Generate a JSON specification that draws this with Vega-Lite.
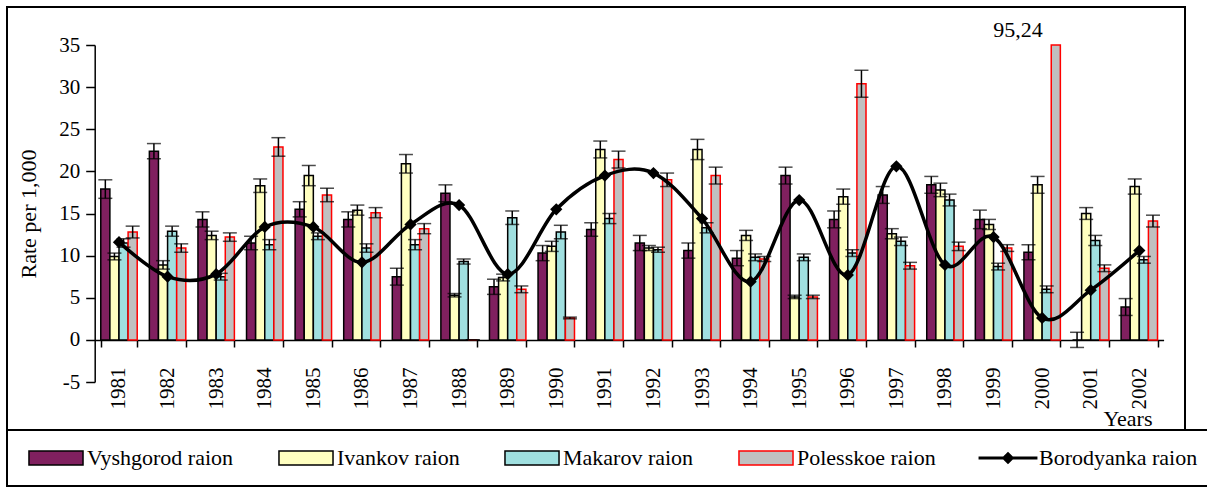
{
  "$schema": "https://vega.github.io/schema/vega-lite/v6.json",
  "autosize": {"type": "none"},
  "padding": {"left": 7, "top": 7, "right": 22, "bottom": 59},
  "width": 1178,
  "height": 423,
  "background": "white",
  "config": {
    "font": "Liberation Serif",
    "axis": {"labelFont": "Liberation Serif", "titleFont": "Liberation Serif"},
    "legend": {"labelFont": "Liberation Serif", "titleFont": "Liberation Serif"},
    "text": {"font": "Liberation Serif"},
    "view": {"stroke": "black", "strokeWidth": 2}
  },
  "datasets": {
    "bars": [
      {"year":"1981","raion":"Vyshgorod raion","value":17.9,"lo":16.8,"hi":19.0},
      {"year":"1981","raion":"Ivankov raion","value":9.9,"lo":9.5,"hi":10.3},
      {"year":"1981","raion":"Makarov raion","value":11.5,"lo":11.0,"hi":12.0},
      {"year":"1981","raion":"Polesskoe raion","value":12.8,"lo":12.1,"hi":13.5},
      {"year":"1982","raion":"Vyshgorod raion","value":22.4,"lo":21.5,"hi":23.3},
      {"year":"1982","raion":"Ivankov raion","value":8.9,"lo":8.4,"hi":9.4},
      {"year":"1982","raion":"Makarov raion","value":12.9,"lo":12.3,"hi":13.5},
      {"year":"1982","raion":"Polesskoe raion","value":10.9,"lo":10.4,"hi":11.4},
      {"year":"1983","raion":"Vyshgorod raion","value":14.3,"lo":13.4,"hi":15.2},
      {"year":"1983","raion":"Ivankov raion","value":12.4,"lo":11.9,"hi":12.9},
      {"year":"1983","raion":"Makarov raion","value":7.5,"lo":7.1,"hi":7.9},
      {"year":"1983","raion":"Polesskoe raion","value":12.2,"lo":11.7,"hi":12.7},
      {"year":"1984","raion":"Vyshgorod raion","value":11.5,"lo":10.7,"hi":12.3},
      {"year":"1984","raion":"Ivankov raion","value":18.3,"lo":17.5,"hi":19.1},
      {"year":"1984","raion":"Makarov raion","value":11.3,"lo":10.7,"hi":11.9},
      {"year":"1984","raion":"Polesskoe raion","value":22.9,"lo":21.8,"hi":24.0},
      {"year":"1985","raion":"Vyshgorod raion","value":15.5,"lo":14.6,"hi":16.4},
      {"year":"1985","raion":"Ivankov raion","value":19.5,"lo":18.3,"hi":20.7},
      {"year":"1985","raion":"Makarov raion","value":12.3,"lo":11.9,"hi":12.7},
      {"year":"1985","raion":"Polesskoe raion","value":17.2,"lo":16.4,"hi":18.0},
      {"year":"1986","raion":"Vyshgorod raion","value":14.3,"lo":13.4,"hi":15.2},
      {"year":"1986","raion":"Ivankov raion","value":15.4,"lo":14.8,"hi":16.0},
      {"year":"1986","raion":"Makarov raion","value":10.9,"lo":10.4,"hi":11.4},
      {"year":"1986","raion":"Polesskoe raion","value":15.1,"lo":14.5,"hi":15.7},
      {"year":"1987","raion":"Vyshgorod raion","value":7.5,"lo":6.5,"hi":8.5},
      {"year":"1987","raion":"Ivankov raion","value":20.9,"lo":19.8,"hi":22.0},
      {"year":"1987","raion":"Makarov raion","value":11.3,"lo":10.7,"hi":11.9},
      {"year":"1987","raion":"Polesskoe raion","value":13.2,"lo":12.6,"hi":13.8},
      {"year":"1988","raion":"Vyshgorod raion","value":17.4,"lo":16.4,"hi":18.4},
      {"year":"1988","raion":"Ivankov raion","value":5.3,"lo":5.1,"hi":5.5},
      {"year":"1988","raion":"Makarov raion","value":9.3,"lo":9.0,"hi":9.6},
      {"year":"1988","raion":"Polesskoe raion","value":0,"lo":0,"hi":0},
      {"year":"1989","raion":"Vyshgorod raion","value":6.3,"lo":5.4,"hi":7.2},
      {"year":"1989","raion":"Ivankov raion","value":7.4,"lo":7.0,"hi":7.8},
      {"year":"1989","raion":"Makarov raion","value":14.5,"lo":13.7,"hi":15.3},
      {"year":"1989","raion":"Polesskoe raion","value":6.0,"lo":5.6,"hi":6.4},
      {"year":"1990","raion":"Vyshgorod raion","value":10.3,"lo":9.4,"hi":11.2},
      {"year":"1990","raion":"Ivankov raion","value":11.1,"lo":10.5,"hi":11.7},
      {"year":"1990","raion":"Makarov raion","value":12.8,"lo":12.0,"hi":13.6},
      {"year":"1990","raion":"Polesskoe raion","value":2.6,"lo":2.5,"hi":2.7},
      {"year":"1991","raion":"Vyshgorod raion","value":13.1,"lo":12.3,"hi":13.9},
      {"year":"1991","raion":"Ivankov raion","value":22.6,"lo":21.6,"hi":23.6},
      {"year":"1991","raion":"Makarov raion","value":14.4,"lo":13.8,"hi":15.0},
      {"year":"1991","raion":"Polesskoe raion","value":21.4,"lo":20.4,"hi":22.4},
      {"year":"1992","raion":"Vyshgorod raion","value":11.5,"lo":10.6,"hi":12.4},
      {"year":"1992","raion":"Ivankov raion","value":10.9,"lo":10.6,"hi":11.2},
      {"year":"1992","raion":"Makarov raion","value":10.7,"lo":10.4,"hi":11.0},
      {"year":"1992","raion":"Polesskoe raion","value":19.0,"lo":18.2,"hi":19.8},
      {"year":"1993","raion":"Vyshgorod raion","value":10.6,"lo":9.7,"hi":11.5},
      {"year":"1993","raion":"Ivankov raion","value":22.6,"lo":21.4,"hi":23.8},
      {"year":"1993","raion":"Makarov raion","value":13.3,"lo":12.7,"hi":13.9},
      {"year":"1993","raion":"Polesskoe raion","value":19.5,"lo":18.5,"hi":20.5},
      {"year":"1994","raion":"Vyshgorod raion","value":9.7,"lo":8.8,"hi":10.6},
      {"year":"1994","raion":"Ivankov raion","value":12.4,"lo":11.8,"hi":13.0},
      {"year":"1994","raion":"Makarov raion","value":9.8,"lo":9.4,"hi":10.2},
      {"year":"1994","raion":"Polesskoe raion","value":9.6,"lo":9.3,"hi":9.9},
      {"year":"1995","raion":"Vyshgorod raion","value":19.5,"lo":18.5,"hi":20.5},
      {"year":"1995","raion":"Ivankov raion","value":5.1,"lo":4.9,"hi":5.3},
      {"year":"1995","raion":"Makarov raion","value":9.8,"lo":9.4,"hi":10.2},
      {"year":"1995","raion":"Polesskoe raion","value":5.1,"lo":4.9,"hi":5.3},
      {"year":"1996","raion":"Vyshgorod raion","value":14.3,"lo":13.3,"hi":15.3},
      {"year":"1996","raion":"Ivankov raion","value":17.0,"lo":16.1,"hi":17.9},
      {"year":"1996","raion":"Makarov raion","value":10.3,"lo":9.9,"hi":10.7},
      {"year":"1996","raion":"Polesskoe raion","value":30.4,"lo":28.8,"hi":32.0},
      {"year":"1997","raion":"Vyshgorod raion","value":17.2,"lo":16.2,"hi":18.2},
      {"year":"1997","raion":"Ivankov raion","value":12.6,"lo":12.0,"hi":13.2},
      {"year":"1997","raion":"Makarov raion","value":11.7,"lo":11.2,"hi":12.2},
      {"year":"1997","raion":"Polesskoe raion","value":8.8,"lo":8.4,"hi":9.2},
      {"year":"1998","raion":"Vyshgorod raion","value":18.4,"lo":17.4,"hi":19.4},
      {"year":"1998","raion":"Ivankov raion","value":17.8,"lo":17.0,"hi":18.6},
      {"year":"1998","raion":"Makarov raion","value":16.6,"lo":15.9,"hi":17.3},
      {"year":"1998","raion":"Polesskoe raion","value":11.1,"lo":10.6,"hi":11.6},
      {"year":"1999","raion":"Vyshgorod raion","value":14.3,"lo":13.2,"hi":15.4},
      {"year":"1999","raion":"Ivankov raion","value":13.7,"lo":13.1,"hi":14.3},
      {"year":"1999","raion":"Makarov raion","value":8.7,"lo":8.3,"hi":9.1},
      {"year":"1999","raion":"Polesskoe raion","value":10.9,"lo":10.5,"hi":11.3},
      {"year":"2000","raion":"Vyshgorod raion","value":10.4,"lo":9.5,"hi":11.3},
      {"year":"2000","raion":"Ivankov raion","value":18.4,"lo":17.4,"hi":19.4},
      {"year":"2000","raion":"Makarov raion","value":6.0,"lo":5.6,"hi":6.4},
      {"year":"2000","raion":"Polesskoe raion","value":95.24,"lo":null,"hi":null},
      {"year":"2001","raion":"Vyshgorod raion","value":0,"lo":-0.9,"hi":0.9},
      {"year":"2001","raion":"Ivankov raion","value":15.0,"lo":14.3,"hi":15.7},
      {"year":"2001","raion":"Makarov raion","value":11.8,"lo":11.2,"hi":12.4},
      {"year":"2001","raion":"Polesskoe raion","value":8.5,"lo":8.1,"hi":8.9},
      {"year":"2002","raion":"Vyshgorod raion","value":3.9,"lo":2.9,"hi":4.9},
      {"year":"2002","raion":"Ivankov raion","value":18.2,"lo":17.3,"hi":19.1},
      {"year":"2002","raion":"Makarov raion","value":9.5,"lo":9.1,"hi":9.9},
      {"year":"2002","raion":"Polesskoe raion","value":14.1,"lo":13.4,"hi":14.8}
    ],
    "line": [
      {"year":"1981","raion":"Borodyanka raion","value":11.6},
      {"year":"1982","raion":"Borodyanka raion","value":7.5},
      {"year":"1983","raion":"Borodyanka raion","value":7.8},
      {"year":"1984","raion":"Borodyanka raion","value":13.4},
      {"year":"1985","raion":"Borodyanka raion","value":13.4},
      {"year":"1986","raion":"Borodyanka raion","value":9.2},
      {"year":"1987","raion":"Borodyanka raion","value":13.7},
      {"year":"1988","raion":"Borodyanka raion","value":16.0},
      {"year":"1989","raion":"Borodyanka raion","value":7.8},
      {"year":"1990","raion":"Borodyanka raion","value":15.5},
      {"year":"1991","raion":"Borodyanka raion","value":19.5},
      {"year":"1992","raion":"Borodyanka raion","value":19.8},
      {"year":"1993","raion":"Borodyanka raion","value":14.4},
      {"year":"1994","raion":"Borodyanka raion","value":6.9},
      {"year":"1995","raion":"Borodyanka raion","value":16.6},
      {"year":"1996","raion":"Borodyanka raion","value":7.7},
      {"year":"1997","raion":"Borodyanka raion","value":20.6},
      {"year":"1998","raion":"Borodyanka raion","value":8.9},
      {"year":"1999","raion":"Borodyanka raion","value":12.2},
      {"year":"2000","raion":"Borodyanka raion","value":2.6},
      {"year":"2001","raion":"Borodyanka raion","value":5.9},
      {"year":"2002","raion":"Borodyanka raion","value":10.6}
    ],
    "note": [
      {"year":"2000","raion":"Polesskoe raion","value":95.24,"label":"95,24"}
    ]
  },
  "encoding": {
    "x": {
      "field": "year", "type": "nominal",
      "scale": {"type": "band", "range": [87.7, 1156.6], "paddingInner": 0.25, "paddingOuter": 0.125},
      "axis": {
        "offset": -90, "tickBand": "extent", "tickSize": 7, "tickWidth": 1.5, "tickColor": "black",
        "domainColor": "black", "domainWidth": 1.5,
        "labelAngle": 270, "labelFont": "Liberation Serif", "labelFontSize": 21, "labelColor": "black", "labelPadding": 20,
        "grid": false,
        "title": "Years", "titleX": 1145, "titleY": 85, "titleAlign": "right", "titleAnchor": null,
        "titleBaseline": "alphabetic", "titleFont": "Liberation Serif", "titleFontSize": 22, "titleFontWeight": "normal", "titleColor": "black"
      }
    },
    "y": {
      "field": "value", "type": "quantitative",
      "scale": {"domain": [-5, 35], "range": [375, 38], "nice": false, "zero": false, "clamp": true},
      "axis": {
        "values": [-5, 0, 5, 10, 15, 20, 25, 30, 35],
        "offset": -87.7, "tickSize": 9, "tickWidth": 1.5, "tickColor": "black",
        "domainColor": "black", "domainWidth": 1.5,
        "labelFont": "Liberation Serif", "labelFontSize": 21, "labelColor": "black", "labelPadding": 6,
        "labelExpr": "'' + datum.value",
        "grid": false,
        "title": "Rate per 1,000", "titleFont": "Liberation Serif", "titleFontSize": 22, "titleFontWeight": "normal", "titleColor": "black",
        "titlePadding": 18
      }
    }
  },
  "layer": [
    {
      "data": {"name": "bars"},
      "mark": {"type": "bar", "strokeWidth": 1.5},
      "encoding": {
        "xOffset": {"field": "raion", "type": "nominal",
          "scale": {"domain": ["Vyshgorod raion", "Ivankov raion", "Makarov raion", "Polesskoe raion"], "paddingInner": 0, "paddingOuter": 0}},
        "fill": {"field": "raion", "type": "nominal",
          "scale": {"domain": ["Vyshgorod raion", "Ivankov raion", "Makarov raion", "Polesskoe raion", "Borodyanka raion"],
                    "range": ["#80205f", "#ffffc0", "#a0e0e0", "#c0c0c0", "#000000"]},
          "legend": {
            "orient": "none", "legendX": 0, "legendY": 423,
            "direction": "horizontal", "columns": 5, "title": null,
            "padding": 17, "strokeColor": "black",
            "symbolSize": 196, "symbolOffset": 21, "labelOffset": 20, "symbolStrokeWidth": 1.5,
            "columnPadding": 40,
            "labelFont": "Liberation Serif", "labelFontSize": 22, "labelColor": "black", "labelLimit": 400,
            "encode": {
              "legend": {"update": {"strokeWidth": {"value": 2}}},
              "symbols": {"update": {"shape": {"signal": "datum.value === 'Borodyanka raion' ? 'M-4.1,-0.12H4.1V0.12H-4.1Z M0,-0.75L0.75,0L0,0.75L-0.75,0Z' : 'M-3.86,-1H3.86V1H-3.86Z'"}}}
            }
          }},
        "stroke": {"field": "raion", "type": "nominal",
          "scale": {"domain": ["Vyshgorod raion", "Ivankov raion", "Makarov raion", "Polesskoe raion", "Borodyanka raion"],
                    "range": ["#000000", "#000000", "#000000", "#ff0000", "#000000"]},
          "legend": {
            "orient": "none", "legendX": 0, "legendY": 423,
            "direction": "horizontal", "columns": 5, "title": null,
            "padding": 17, "strokeColor": "black",
            "symbolSize": 196, "symbolOffset": 21, "labelOffset": 20, "symbolStrokeWidth": 1.5,
            "columnPadding": 40,
            "labelFont": "Liberation Serif", "labelFontSize": 22, "labelColor": "black", "labelLimit": 400,
            "encode": {
              "legend": {"update": {"strokeWidth": {"value": 2}}},
              "symbols": {"update": {"shape": {"signal": "datum.value === 'Borodyanka raion' ? 'M-4.1,-0.12H4.1V0.12H-4.1Z M0,-0.75L0.75,0L0,0.75L-0.75,0Z' : 'M-3.86,-1H3.86V1H-3.86Z'"}}}
            }
          }}
      }
    },
    {
      "data": {"name": "bars"},
      "mark": {"type": "rule", "color": "black", "strokeWidth": 1.5},
      "encoding": {
        "xOffset": {"field": "raion", "type": "nominal"},
        "y": {"field": "lo", "type": "quantitative"},
        "y2": {"field": "hi"}
      }
    },
    {
      "data": {"name": "bars"},
      "mark": {"type": "tick", "orient": "horizontal", "color": "black", "size": 14, "thickness": 1.5},
      "encoding": {
        "xOffset": {"field": "raion", "type": "nominal"},
        "y": {"field": "lo", "type": "quantitative"}
      }
    },
    {
      "data": {"name": "bars"},
      "mark": {"type": "tick", "orient": "horizontal", "color": "black", "size": 14, "thickness": 1.5},
      "encoding": {
        "xOffset": {"field": "raion", "type": "nominal"},
        "y": {"field": "hi", "type": "quantitative"}
      }
    },
    {
      "data": {"name": "line"},
      "mark": {"type": "line", "interpolate": "cardinal", "strokeWidth": 3.5},
      "encoding": {
        "stroke": {"field": "raion", "type": "nominal"}
      }
    },
    {
      "data": {"name": "line"},
      "mark": {"type": "point", "shape": "diamond", "filled": true, "size": 150, "opacity": 1},
      "encoding": {
        "fill": {"field": "raion", "type": "nominal"}
      }
    },
    {
      "data": {"name": "note"},
      "mark": {"type": "text", "align": "right", "baseline": "alphabetic", "dx": -13, "dy": -8, "font": "Liberation Serif", "fontSize": 22, "color": "black"},
      "encoding": {
        "xOffset": {"field": "raion", "type": "nominal"},
        "text": {"field": "label"}
      }
    }
  ]
}
